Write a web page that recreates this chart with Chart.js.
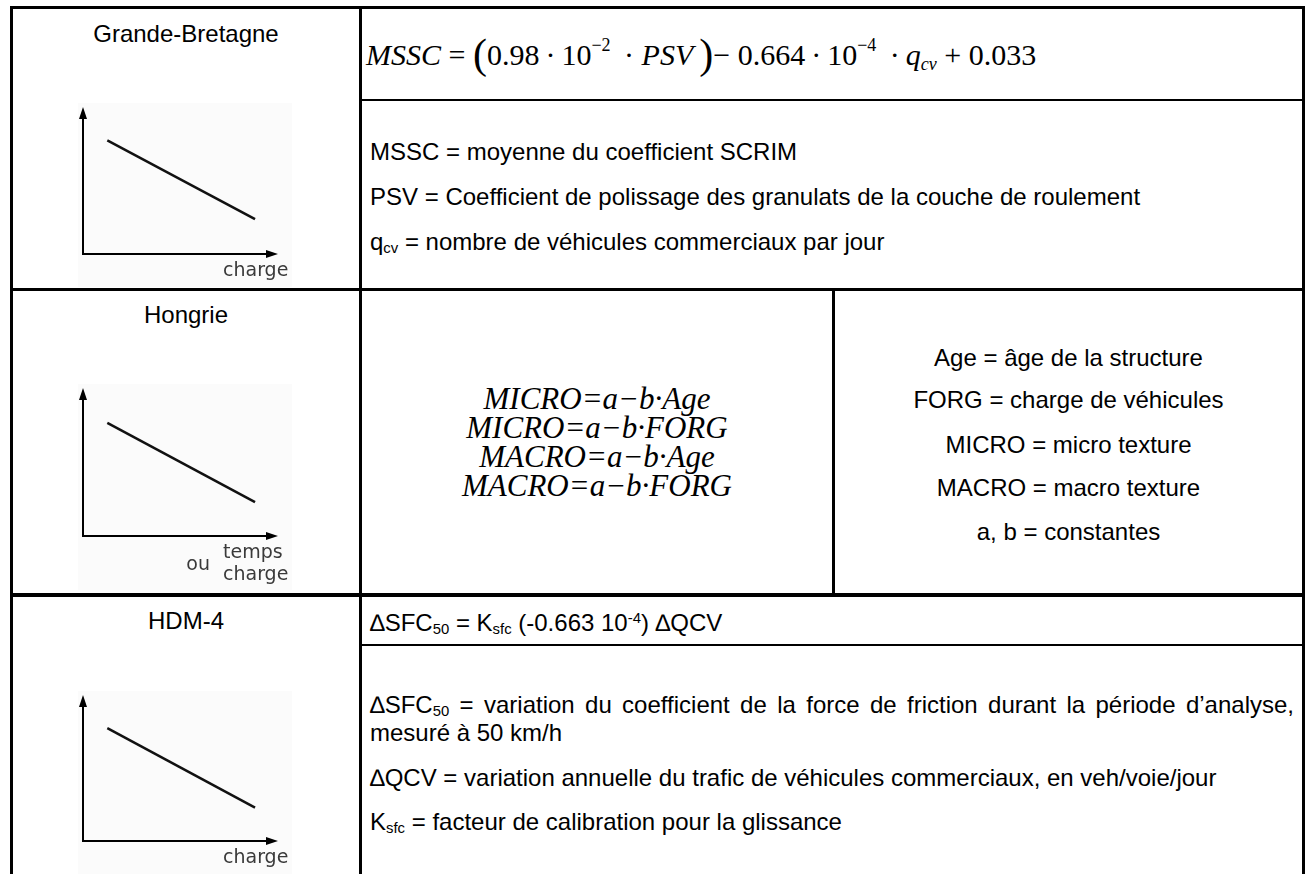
<!DOCTYPE html>
<html lang="fr">
<head>
<meta charset="utf-8">
<script src="https://cdn.jsdelivr.net/npm/chart.js@4.4.1/dist/chart.umd.min.js"></script>
<style>
  body { margin: 0; background: #fff; }
  #page { position: relative; width: 1310px; height: 874px; overflow: hidden;
          font-family: "Liberation Sans", Arial, sans-serif; font-size: 24px; color: #000; }
  .bk { position: absolute; background: #000; }
  .t { position: absolute; white-space: nowrap; line-height: 30px; }
  .c { text-align: center; }
  canvas { position: absolute; background: #fbfbfb; }
  .math { font-family: "Liberation Serif", "Times New Roman", serif; font-size: 30px; }
  .math i { font-style: italic; }
  .paren { font-size: 42px; position: relative; top: 3px; }
  .math sup { font-size: 60%; vertical-align: 0.8em; line-height: 0; }
  .math sub { font-size: 60%; vertical-align: -0.3em; line-height: 0; }
  .lo { font-size: 62%; vertical-align: -0.22em; line-height: 0; }
  .hi { font-size: 62%; vertical-align: 0.55em; line-height: 0; }
  #hu { position: absolute; left: 362px; width: 470px; top: 384px; text-align: center;
        font-family: "Liberation Serif", "Times New Roman", serif; font-style: italic;
        font-size: 31px; line-height: 29px; }
</style>
</head>
<body>
<div id="page">
  <!-- table rules -->
  <div class="bk" style="left:10px;top:6px;width:1295px;height:3px"></div>
  <div class="bk" style="left:10px;top:6px;width:3px;height:868px"></div>
  <div class="bk" style="left:1302px;top:6px;width:3px;height:868px"></div>
  <div class="bk" style="left:359px;top:6px;width:3px;height:868px"></div>
  <div class="bk" style="left:362px;top:99px;width:940px;height:2px"></div>
  <div class="bk" style="left:10px;top:288px;width:1295px;height:3px"></div>
  <div class="bk" style="left:832px;top:290px;width:3px;height:304px"></div>
  <div class="bk" style="left:10px;top:593px;width:1295px;height:4px"></div>
  <div class="bk" style="left:362px;top:644px;width:940px;height:2px"></div>

  <!-- left column titles -->
  <div class="t c" id="title0" style="left:13px;width:346px;top:19px"></div>
  <div class="t c" id="title1" style="left:13px;width:346px;top:300px"></div>
  <div class="t c" id="title2" style="left:13px;width:346px;top:606px"></div>

  <canvas id="gb" width="214" height="184" style="left:78px;top:103px"></canvas>
  <canvas id="hu-chart" width="214" height="206" style="left:78px;top:384px"></canvas>
  <canvas id="hdm" width="214" height="183" style="left:78px;top:691px"></canvas>

  <!-- Grande-Bretagne -->
  <div class="t math" style="left:366px;top:31px;line-height:40px">
    <i>MSSC</i> = <span class="paren">(</span>0.98&#8201;·&#8201;10<sup>−2</sup>&#8201; · <i>PSV</i>&#8201;<span class="paren">)</span>− 0.664&#8201;·&#8201;10<sup>−4</sup>&#8201; ·&#8201;<i>q<sub>cv</sub></i> + 0.033
  </div>
  <div class="t" style="left:370px;top:137px">MSSC = moyenne du coefficient SCRIM</div>
  <div class="t" style="left:370px;top:182px">PSV = Coefficient de polissage des granulats de la couche de roulement</div>
  <div class="t" style="left:370px;top:227px">q<span class="lo">cv</span> = nombre de véhicules commerciaux par jour</div>

  <!-- Hongrie -->
  <div id="hu">MICRO=a−b·Age<br>MICRO=a−b·FORG<br>MACRO=a−b·Age<br>MACRO=a−b·FORG</div>
  <div class="t c" style="left:835px;width:467px;top:343px">Age = âge de la structure</div>
  <div class="t c" style="left:835px;width:467px;top:385px">FORG = charge de véhicules</div>
  <div class="t c" style="left:835px;width:467px;top:430px">MICRO = micro texture</div>
  <div class="t c" style="left:835px;width:467px;top:473px">MACRO = macro texture</div>
  <div class="t c" style="left:835px;width:467px;top:517px">a, b = constantes</div>

  <!-- HDM-4 -->
  <div class="t" style="left:370px;top:608px">∆SFC<span class="lo">50</span> = K<span class="lo">sfc</span> (-0.663 10<span class="hi">-4</span>) ∆QCV</div>
  <div class="t" style="left:370px;width:924px;top:690px;white-space:normal;text-align:justify;text-align-last:justify">∆SFC<span class="lo">50</span> = variation du coefficient de la force de friction durant la période d’analyse,</div>
  <div class="t" style="left:370px;top:718px">mesuré à 50 km/h</div>
  <div class="t" style="left:370px;top:763px">∆QCV = variation annuelle du trafic de véhicules commerciaux, en veh/voie/jour</div>
  <div class="t" style="left:370px;top:807px">K<span class="lo">sfc</span> = facteur de calibration pour la glissance</div>
</div>

<script>
const panels = ['Grande-Bretagne', 'Hongrie', 'HDM-4'];
const xPoints = [13, 92];
const gbValues = [83, 25.5];
const huValues = [82, 24.5];
const hdmValues = [83, 24.5];
const axisLabels = [['charge'], ['temps', 'charge'], ['charge']];
const axisPrefix = ['', 'ou', ''];

panels.forEach((p, i) => { document.getElementById('title' + i).textContent = p; });

// arrow heads + axis caption, drawn on the chart canvas
const arrowAxes = {
  id: 'arrowAxes',
  afterDraw(chart, args, opts) {
    const {ctx, chartArea: a} = chart;
    ctx.save();
    ctx.fillStyle = '#000';
    ctx.beginPath();
    ctx.moveTo(a.left, a.top - 10);
    ctx.lineTo(a.left - 4, a.top + 2);
    ctx.lineTo(a.left + 4, a.top + 2);
    ctx.fill();
    ctx.beginPath();
    ctx.moveTo(a.right + 8, a.bottom);
    ctx.lineTo(a.right - 4, a.bottom - 4);
    ctx.lineTo(a.right - 4, a.bottom + 4);
    ctx.fill();

    ctx.fillStyle = '#3a3a3a';
    ctx.font = '19px "DejaVu Sans"';
    ctx.textBaseline = 'middle';
    ctx.textAlign = 'left';
    opts.lines.forEach((t, k) => ctx.fillText(t, a.right - 47, a.bottom + 17 + k * 22));
    if (opts.prefix) {
      ctx.textAlign = 'right';
      ctx.fillText(opts.prefix, a.right - 60, a.bottom + 29);
    }
    ctx.restore();
  }
};

function axis() {
  return {
    type: 'linear',
    min: 0,
    max: 100,
    grid: { display: false, drawTicks: false },
    ticks: { display: false },
    border: { display: true, color: '#000', width: 2 }
  };
}

function drawPanel(id, values, idx, padBottom) {
  new Chart(document.getElementById(id), {
    type: 'line',
    data: {
      datasets: [{
        data: xPoints.map((x, k) => ({ x: x, y: values[k] })),
        borderColor: '#111',
        borderWidth: 2.5,
        pointRadius: 0
      }]
    },
    options: {
      responsive: false,
      animation: false,
      layout: { padding: { left: 5, right: 22, top: 14, bottom: padBottom } },
      plugins: {
        legend: { display: false },
        tooltip: { enabled: false },
        arrowAxes: { lines: axisLabels[idx], prefix: axisPrefix[idx] }
      },
      scales: { x: axis(), y: axis() }
    },
    plugins: [arrowAxes]
  });
}

drawPanel('gb', gbValues, 0, 33);
drawPanel('hu-chart', huValues, 1, 54);
drawPanel('hdm', hdmValues, 2, 33);
</script>
</body>
</html>
